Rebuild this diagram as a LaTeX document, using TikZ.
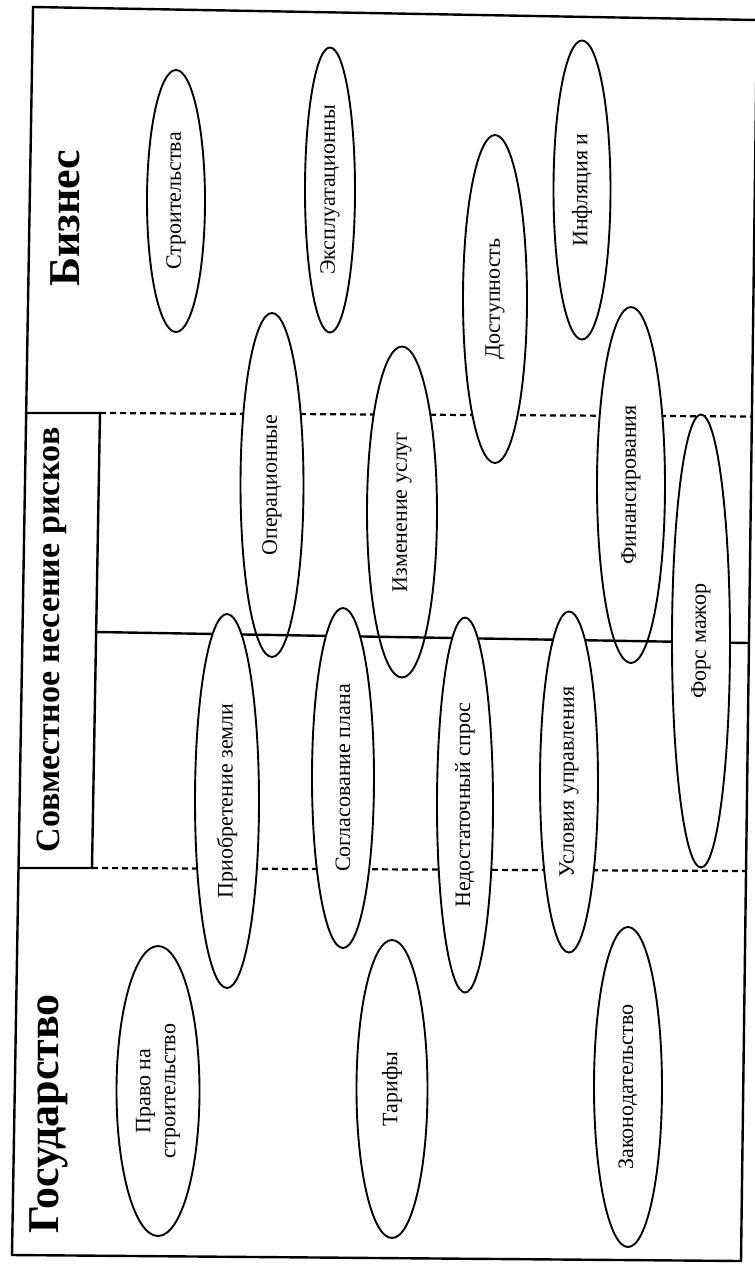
\documentclass[tikz,border=0pt]{standalone}
\usepackage{fontspec}
\setmainfont{Liberation Serif}
\usetikzlibrary{shapes.geometric}
\tikzset{
  x=1pt, y=-1pt,
  risk/.style={ellipse, draw, fill=white, line width=1.9pt, rotate=90, inner sep=0pt,
    font=\fontsize{22}{25}\selectfont, align=center},
  header/.style={rotate=90, font=\bfseries\fontsize{#1}{#1}\selectfont, inner sep=0pt},
  frameline/.style={line width=2.4pt},
  sepdash/.style={line width=2.2pt, dash pattern=on 6pt off 4pt},
}
\begin{document}
\begin{tikzpicture}
\useasboundingbox (0,0) rectangle (755,1264);
% outer frame
\coordinate (tl) at (33,7);
\coordinate (tr) at (757,20);
\coordinate (br) at (741,1261);
\coordinate (bl) at (12,1255);
\draw[frameline] (tl) -- (tr) -- (br) -- (bl) -- cycle;
% box of the shared band
\coordinate (bxtl) at (26.2,413);
\coordinate (bxtr) at (100,413);
\coordinate (bxbr) at (92,868);
\coordinate (bxbl) at (18.5,868);
\draw[frameline] (bxtl) -- (bxtr) -- (bxbr) -- (bxbl);
% upper dashed separator
\coordinate (d1e) at (752,416.5);
\draw[sepdash] (bxtr) -- (d1e);
% headers
\node[header=44] (biz) at (65,218) {Бизнес};
\node[header=34] (shared) at (52,640) {Совместное несение рисков};
\node[header=44] (gov) at (49,1114) {Государство};
% business risks
\node[risk, minimum width=262pt, minimum height=58pt] (e1) at (176,201) {Строительства};
\node[risk, minimum width=285pt, minimum height=50pt] (e2) at (330,190) {Эксплуатационны};
\node[risk, minimum width=328pt, minimum height=64pt] (e3) at (495,299) {Доступность};
\node[risk, minimum width=299pt, minimum height=57pt] (e4) at (582,190) {Инфляция и};
% shared risks, upper row
\node[risk, minimum width=344pt, minimum height=63pt] (e5) at (272,485) {Операционные};
\node[risk, minimum width=331pt, minimum height=70pt] (e6) at (402,512) {Изменение услуг};
\node[risk, minimum width=356pt, minimum height=68pt] (e7) at (631,485) {Финансирования};
% solid middle separator
\coordinate (s1) at (96.1,632);
\coordinate (s2) at (749,643);
\draw[frameline] (s1) -- (s2);
% lower dashed separator
\coordinate (d2e) at (746,871);
\draw[sepdash] (bxbr) -- (d2e);
% shared risks, lower row
\node[risk, minimum width=374pt, minimum height=64pt] (e8) at (227,801) {Приобретение земли};
\node[risk, minimum width=340pt, minimum height=62pt] (e9) at (343,778) {Согласование плана};
\node[risk, minimum width=375pt, minimum height=56pt] (e10) at (465,805) {Недостаточный спрос};
\node[risk, minimum width=341pt, minimum height=58pt] (e11) at (569,782) {Условия управления};
\node[risk, minimum width=453pt, minimum height=58pt] (e12) at (701,641) {Форс мажор};
% state risks
\node[risk, minimum width=290pt, minimum height=83pt] (e13) at (158,1091) {Право на\\строительство};
\node[risk, minimum width=298pt, minimum height=71pt] (e14) at (392,1089) {Тарифы};
\node[risk, minimum width=320pt, minimum height=68pt] (e15) at (628,1087) {Законодательство};
\end{tikzpicture}
\end{document}
